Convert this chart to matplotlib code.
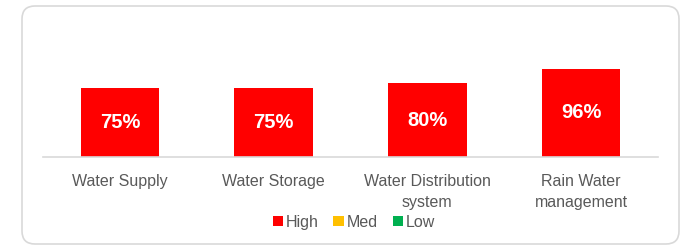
import matplotlib.pyplot as plt
from matplotlib.patches import FancyBboxPatch, Patch

categories = ['Water Supply', 'Water Storage', 'Water Distribution\nsystem', 'Rain Water\nmanagement']
values = [75, 75, 80, 96]
legend_labels = ['High', 'Med', 'Low']
legend_colors = ['#FF0000', '#FFC000', '#00B050']

TEXT_GRAY = '#595959'
W, H = 684, 247

fig = plt.figure(figsize=(W / 100, H / 100), dpi=100)

# background frame in pixel coords
bg = fig.add_axes([0, 0, 1, 1])
bg.set_xlim(0, W)
bg.set_ylim(H, 0)
bg.axis('off')
frame = FancyBboxPatch((22, 6), 657, 238, boxstyle='round,pad=0,rounding_size=13',
                       facecolor='white', edgecolor='#d9d9d9', linewidth=1.2)
bg.add_patch(frame)

# plot area: x 43..658, baseline at y=157
ax = fig.add_axes([43 / W, (H - 157) / H, 615 / W, 137 / H])
ax.patch.set_alpha(0)
x = list(range(len(categories)))
bars = ax.bar(x, values, width=0.51, color=legend_colors[0], zorder=2)
ax.set_xlim(-0.5, len(categories) - 0.5)
ax.set_ylim(0, 137 / 0.92)

for b, v in zip(bars, values):
    ax.text(b.get_x() + b.get_width() / 2, v / 2, f'{v}%', ha='center', va='center',
            color='white', fontsize=14.5, fontweight='bold', family='Liberation Sans')

for s in ['top', 'right', 'left']:
    ax.spines[s].set_visible(False)
ax.spines['bottom'].set_color('#d9d9d9')
ax.spines['bottom'].set_linewidth(1.2)
ax.set_yticks([])
ax.set_xticks(x)
ax.set_xticklabels(categories, color=TEXT_GRAY, fontsize=11.5, family='Liberation Sans',
                   linespacing=1.5)
ax.tick_params(axis='x', length=0, pad=12)

handles = [Patch(facecolor=c, edgecolor='none') for c in legend_colors]
fig.legend(handles, legend_labels, loc='center', bbox_to_anchor=(354 / W, (H - 222) / H),
           ncol=3, frameon=False, handlelength=0.65, handleheight=0.65, handletextpad=0.2,
           columnspacing=0.9, prop={'family': 'Liberation Sans', 'size': 11.5},
           labelcolor=TEXT_GRAY, borderpad=0)

fig.savefig('out.png', dpi=100)
